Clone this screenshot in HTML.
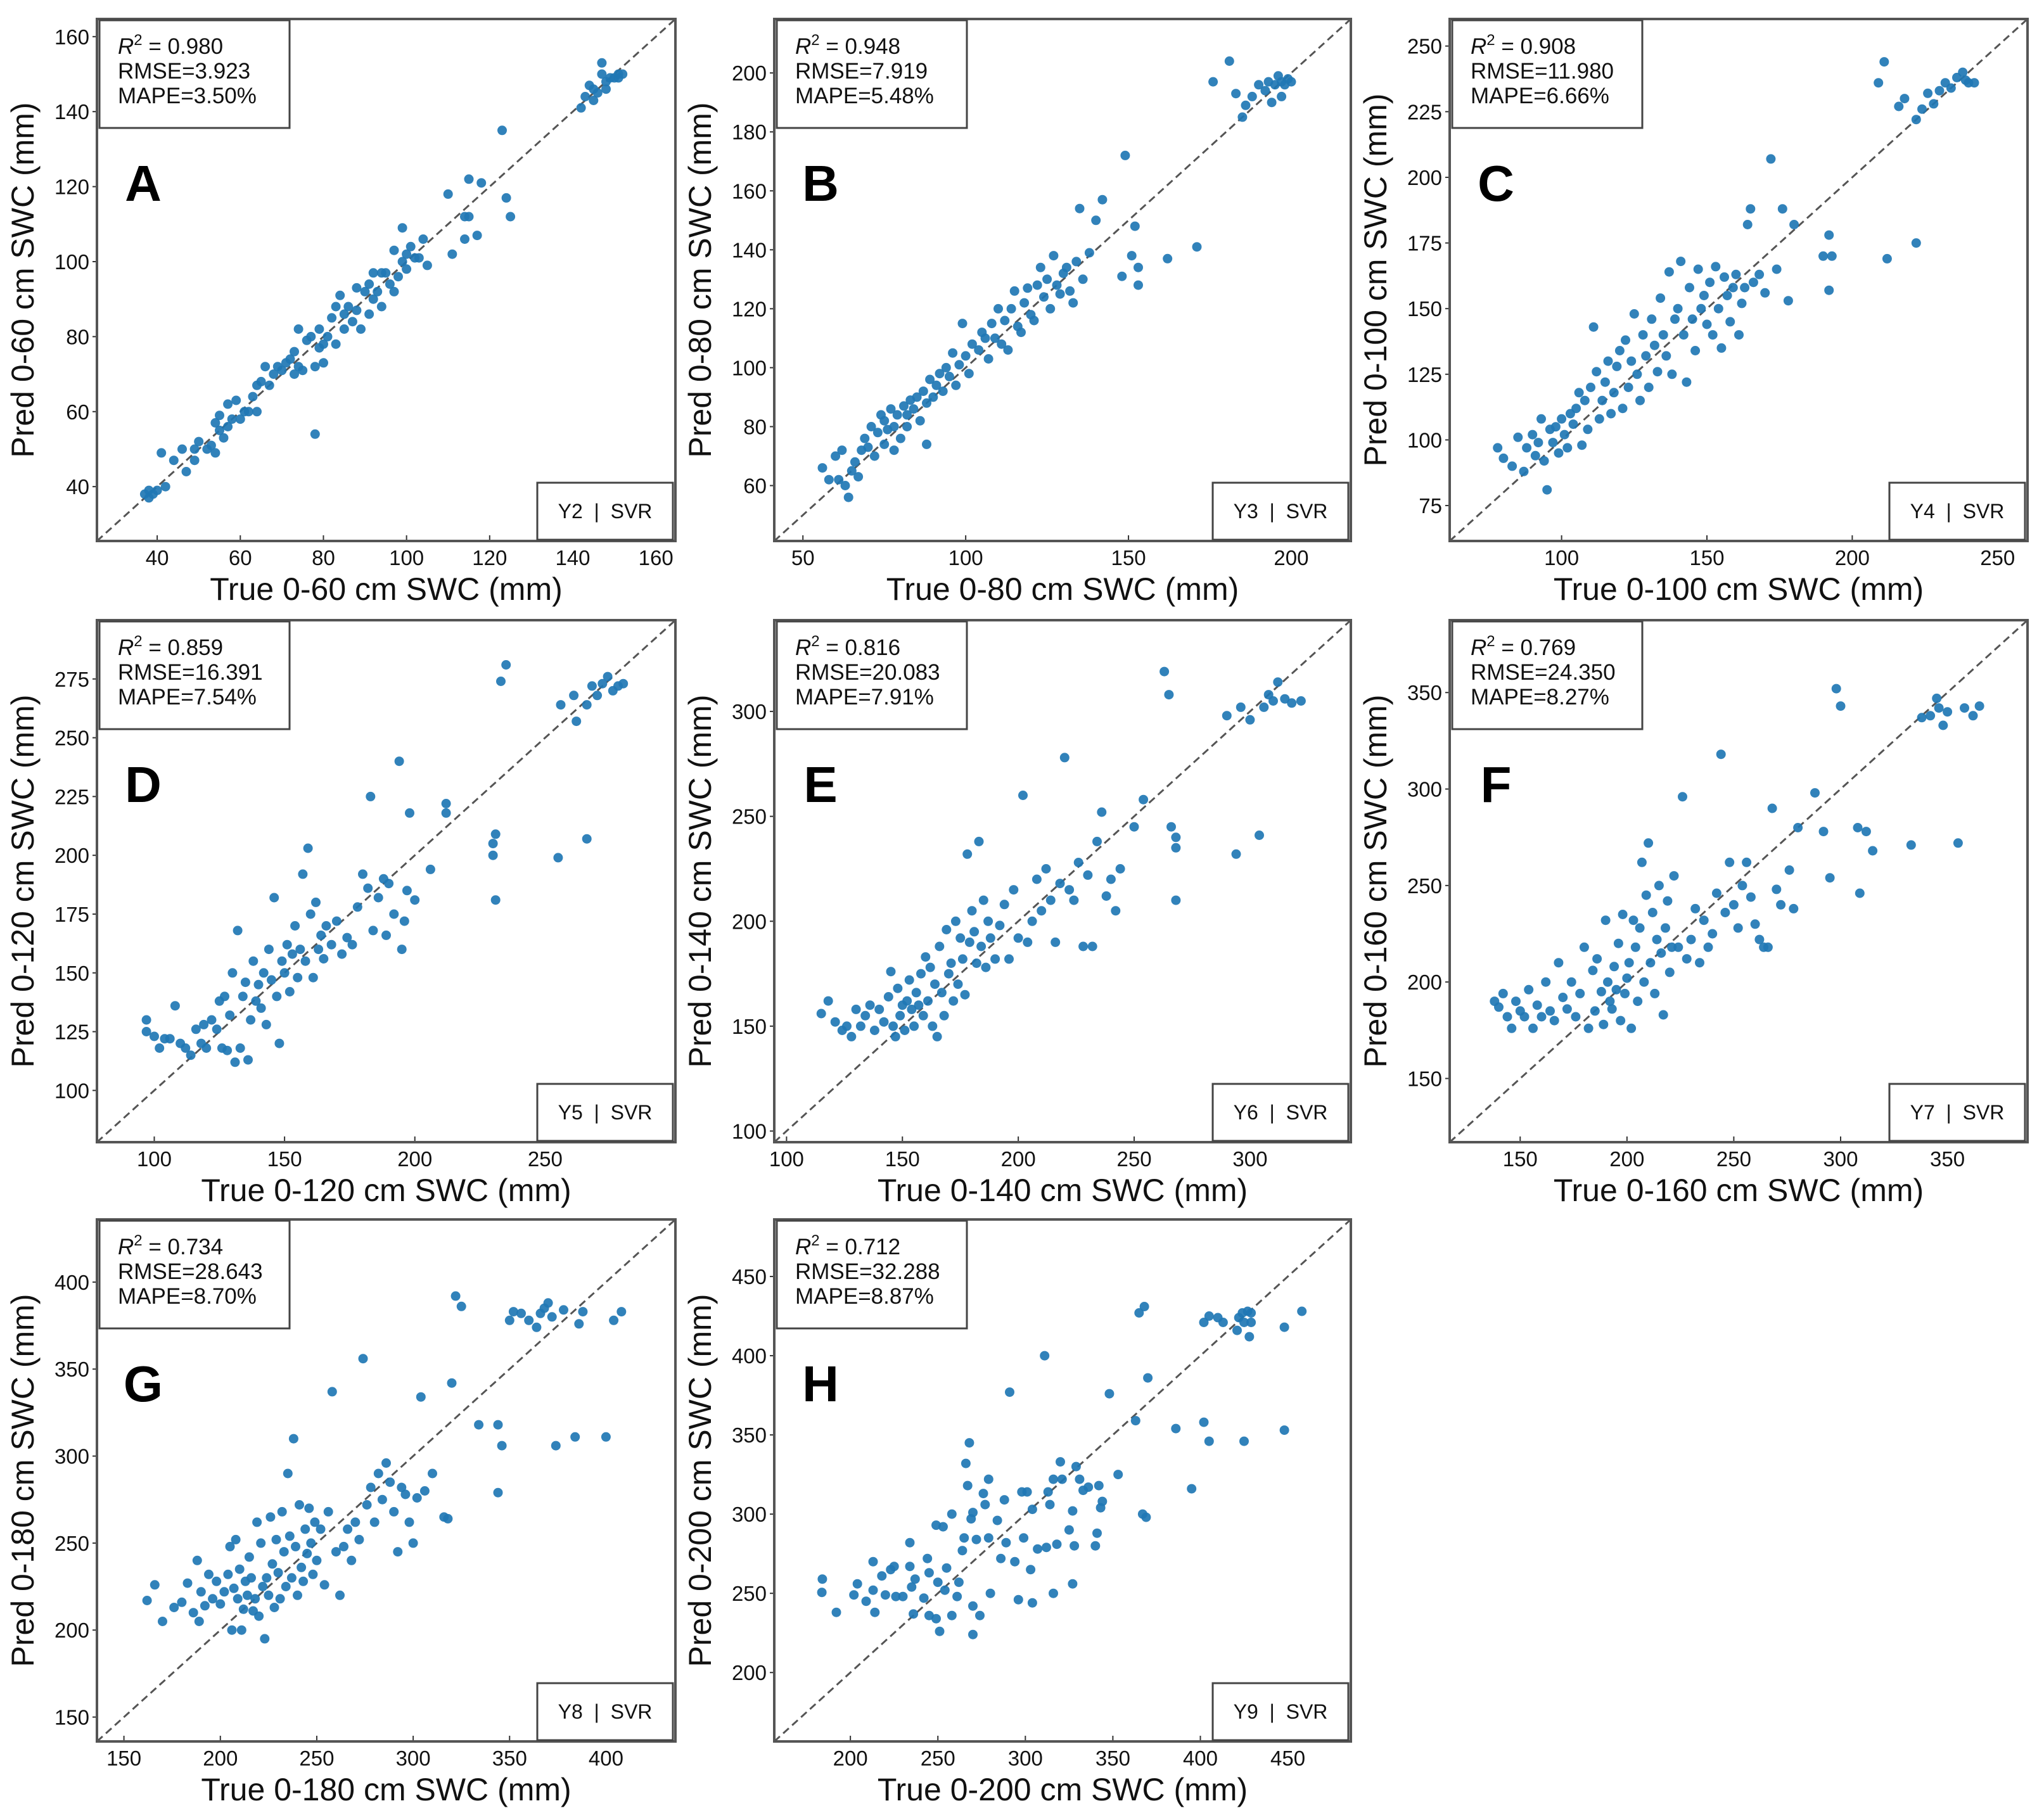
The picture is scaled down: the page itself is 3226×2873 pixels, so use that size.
<!DOCTYPE html>
<html><head><meta charset="utf-8"><style>
html,body{margin:0;padding:0;background:#fff}
svg{display:block;font-family:"Liberation Sans",Arial,sans-serif}
</style></head><body>
<svg id="fig" width="3226" height="2873" viewBox="0 0 3226 2873" xmlns="http://www.w3.org/2000/svg"></svg>
<script>
const panelIds = ["A","B","C","D","E","F","G","H"];
const depths = ["0-60","0-80","0-100","0-120","0-140","0-160","0-180","0-200"];
const targets = ["Y2","Y3","Y4","Y5","Y6","Y7","Y8","Y9"];
const r2Vals = ["0.980","0.948","0.908","0.859","0.816","0.769","0.734","0.712"];
const rmseVals = ["3.923","7.919","11.980","16.391","20.083","24.350","28.643","32.288"];
const mapeVals = ["3.50%","5.48%","6.66%","7.54%","7.91%","8.27%","8.70%","8.87%"];
const domains = [[25.5,164.7],[41.2,218.3],[61.5,260.3],[78,300],[94.7,343.5],[117,387.5],[136,436],[156.5,486]];
const xTicks = [[40,60,80,100,120,140,160],[50,100,150,200],[100,150,200,250],[100,150,200,250],[100,150,200,250,300],[150,200,250,300,350],[150,200,250,300,350,400],[200,250,300,350,400,450]];
const yTicks = [[40,60,80,100,120,140,160],[60,80,100,120,140,160,180,200],[75,100,125,150,175,200,225,250],[100,125,150,175,200,225,250,275],[100,150,200,250,300],[150,200,250,300,350],[150,200,250,300,350,400],[200,250,300,350,400,450]];

const ptsA = [[37,38],[38,39],[38,37],[39,38],[40,39],[41,49],[42,40],[44,47],[46,50],[47,44],[49,50],[49,47],[50,52],[52,50],[53,51],[54,57],[54,49],[55,55],[55,59],[56,53],[57,56],[57,62],[58,58],[59,63],[60,58],[61,60],[62,60],[63,64],[64,67],[64,60],[65,68],[66,72],[67,67],[68,70],[69,72],[70,71],[71,73],[72,74],[73,70],[73,76],[74,72],[74,82],[75,71],[76,79],[77,80],[78,72],[78,54],[79,77],[79,82],[80,78],[80,73],[81,80],[82,85],[83,78],[83,88],[84,91],[85,82],[85,86],[86,88],[87,84],[88,87],[88,93],[89,82],[90,92],[91,86],[91,94],[92,90],[92,97],[93,92],[94,97],[94,88],[95,97],[96,94],[97,92],[97,103],[98,96],[99,100],[99,109],[100,98],[100,102],[101,104],[102,101],[103,101],[104,106],[105,99],[110,118],[111,102],[114,112],[114,106],[115,112],[115,122],[117,107],[118,121],[123,135],[124,117],[125,112],[142,141],[143,144],[144,147],[145,146],[145,143],[146,145],[147,150],[147,153],[148,148],[148,146],[150,149],[151,149],[152,150],[151,150],[149,149]];
const ptsB = [[56,66],[58,62],[60,70],[61,62],[62,72],[63,60],[64,56],[65,65],[66,68],[67,63],[68,72],[69,76],[70,73],[71,80],[72,70],[73,78],[74,84],[75,82],[75,74],[76,79],[77,86],[78,80],[78,72],[79,84],[80,76],[81,87],[82,80],[82,84],[83,89],[84,86],[85,90],[86,82],[87,92],[88,88],[88,74],[89,96],[90,90],[91,94],[92,98],[93,92],[94,100],[95,97],[96,105],[97,94],[98,101],[99,115],[100,104],[101,98],[102,108],[104,106],[105,112],[106,110],[107,103],[108,115],[109,110],[110,120],[111,108],[112,116],[113,106],[114,120],[115,126],[116,114],[117,112],[118,122],[119,127],[120,118],[121,116],[122,128],[123,134],[124,124],[125,130],[126,120],[127,138],[128,128],[129,125],[130,132],[131,134],[132,126],[133,122],[134,136],[135,154],[136,130],[138,139],[140,150],[142,157],[148,131],[149,172],[151,138],[152,148],[153,134],[153,128],[162,137],[171,141],[176,197],[181,204],[183,193],[185,185],[186,189],[188,192],[190,196],[192,194],[193,197],[195,196],[196,199],[197,197],[198,196],[199,198],[200,197],[197,192],[194,190]];
const ptsC = [[78,97],[80,93],[83,90],[85,101],[87,88],[88,97],[90,102],[91,94],[92,99],[93,108],[94,92],[95,81],[96,104],[97,99],[98,105],[99,95],[100,108],[101,102],[102,97],[103,110],[104,106],[105,112],[106,118],[107,98],[108,115],[109,104],[110,120],[111,143],[112,126],[113,108],[114,115],[115,122],[116,130],[117,110],[118,118],[119,128],[120,134],[121,112],[122,138],[123,120],[124,130],[125,148],[126,125],[127,115],[128,140],[129,132],[130,120],[131,146],[132,136],[133,126],[134,154],[135,140],[136,132],[137,164],[138,125],[139,146],[140,150],[141,168],[142,140],[143,122],[144,158],[145,146],[146,134],[147,165],[148,150],[149,155],[150,144],[151,160],[152,140],[153,166],[154,150],[155,135],[156,162],[157,155],[158,145],[159,158],[160,163],[161,140],[162,152],[163,158],[164,182],[165,188],[166,160],[168,163],[170,156],[172,207],[174,165],[176,188],[178,153],[180,182],[190,170],[192,178],[192,157],[193,170],[209,236],[211,244],[212,169],[216,227],[218,230],[222,175],[222,222],[224,226],[226,232],[228,228],[230,233],[232,236],[234,234],[236,238],[238,240],[240,236],[242,236],[239,237]];
const ptsD = [[97,130],[97,125],[100,123],[102,118],[104,122],[106,122],[108,136],[110,120],[112,118],[114,115],[116,126],[118,120],[119,128],[120,118],[122,130],[124,126],[125,138],[126,118],[127,140],[128,117],[129,132],[130,150],[131,112],[132,168],[133,118],[134,140],[135,146],[136,113],[137,130],[138,155],[139,138],[140,145],[141,135],[142,150],[143,128],[144,160],[145,147],[146,182],[147,140],[148,120],[149,155],[150,150],[151,162],[152,142],[153,158],[154,170],[155,148],[156,160],[157,192],[158,155],[159,203],[160,175],[161,148],[162,180],[163,160],[164,166],[165,156],[166,170],[168,162],[170,172],[172,158],[174,165],[176,162],[178,178],[180,192],[182,186],[183,225],[184,168],[186,182],[188,190],[189,166],[190,188],[192,175],[194,240],[195,160],[196,172],[197,185],[198,218],[200,181],[206,194],[212,222],[212,218],[230,205],[230,200],[231,181],[231,209],[233,274],[235,281],[255,199],[256,264],[261,268],[262,257],[266,207],[266,264],[268,272],[270,268],[272,273],[274,276],[276,270],[278,272],[280,273]];
const ptsE = [[115,156],[118,162],[121,152],[124,148],[126,150],[128,145],[130,158],[132,150],[134,155],[136,160],[138,148],[140,158],[142,152],[144,164],[145,176],[146,150],[147,145],[148,168],[149,155],[150,160],[151,148],[152,162],[153,172],[154,158],[155,150],[156,166],[157,160],[158,175],[159,155],[160,183],[161,162],[162,178],[163,150],[164,170],[165,145],[166,188],[167,166],[168,155],[169,196],[170,175],[171,180],[172,162],[173,200],[174,170],[175,192],[176,182],[177,165],[178,232],[179,190],[180,205],[181,195],[182,180],[183,238],[184,188],[185,210],[186,178],[187,200],[188,192],[190,182],[192,198],[194,208],[196,182],[198,215],[200,192],[202,260],[204,190],[206,200],[208,220],[210,205],[212,225],[214,210],[216,190],[218,218],[220,278],[222,215],[224,210],[226,228],[228,188],[230,222],[232,188],[234,238],[236,252],[238,212],[240,220],[242,205],[244,225],[250,245],[254,258],[266,245],[268,240],[268,210],[268,235],[263,319],[265,308],[290,298],[294,232],[296,302],[300,296],[304,241],[306,302],[308,308],[310,305],[312,314],[315,306],[318,304],[322,305]];
const ptsF = [[138,190],[140,187],[142,194],[144,182],[146,176],[148,190],[150,185],[152,182],[154,196],[156,176],[158,188],[160,182],[162,200],[164,185],[166,180],[168,210],[170,192],[172,186],[174,200],[176,182],[178,194],[180,218],[182,176],[184,206],[185,185],[186,212],[188,195],[189,178],[190,232],[191,200],[192,190],[193,186],[194,208],[195,196],[196,220],[197,180],[198,235],[199,194],[200,202],[201,210],[202,176],[203,232],[204,218],[205,190],[206,228],[207,262],[208,200],[209,245],[210,272],[211,210],[212,236],[213,194],[214,222],[215,250],[216,215],[217,183],[218,228],[219,242],[220,205],[221,218],[222,255],[224,218],[226,296],[228,212],[230,222],[232,238],[234,210],[236,232],[238,218],[240,225],[242,246],[244,318],[246,236],[248,262],[250,240],[252,228],[254,250],[256,262],[258,244],[260,230],[262,222],[264,218],[266,218],[268,290],[270,248],[272,240],[276,258],[278,238],[280,280],[288,298],[292,278],[295,254],[298,352],[300,343],[308,280],[309,246],[312,278],[315,268],[333,271],[338,337],[342,338],[346,342],[348,333],[350,340],[355,272],[358,342],[362,338],[365,343],[345,347]];
const ptsG = [[162,217],[166,226],[170,205],[176,213],[180,216],[183,227],[186,210],[188,240],[189,205],[190,222],[192,214],[194,232],[196,218],[198,228],[200,215],[202,222],[204,232],[205,248],[206,200],[207,224],[208,252],[209,218],[210,235],[211,200],[212,212],[213,228],[214,220],[215,242],[216,230],[217,211],[218,218],[219,262],[220,208],[221,250],[222,225],[223,195],[224,230],[225,220],[226,265],[227,238],[228,213],[229,252],[230,233],[231,218],[232,268],[233,245],[234,225],[235,290],[236,254],[237,230],[238,310],[239,248],[240,220],[241,272],[242,236],[243,228],[244,258],[245,244],[246,270],[247,250],[248,232],[249,262],[250,240],[252,258],[254,226],[256,268],[258,337],[260,245],[262,220],[264,248],[266,258],[268,240],[270,262],[272,252],[274,356],[276,272],[278,282],[280,262],[282,290],[284,275],[286,296],[288,285],[290,268],[292,245],[294,282],[296,278],[298,262],[300,250],[302,276],[304,334],[306,280],[310,290],[316,265],[318,264],[320,342],[322,392],[325,386],[334,318],[344,318],[344,279],[346,306],[350,378],[352,383],[356,382],[360,378],[364,374],[366,382],[368,385],[370,388],[372,380],[374,306],[378,384],[384,311],[386,376],[388,383],[400,311],[404,378],[408,383]];
const ptsH = [[183.7,250.6],[184,259],[192,238],[202,249],[204,256],[209,245],[213,270],[213,252],[214,238],[218,261],[220,249],[223,265],[225,267],[226,248],[230,248],[234,282],[234,267],[235,254],[236,237],[237,259],[242,247],[244,272],[245,236],[245,263],[249,293],[249,234],[250,257],[251,226],[253,292],[254,252],[255,266],[258,300],[258,236],[261,248],[262,257],[264,277],[265,285],[266,332],[267,318],[268,345],[269,297],[270,301],[270,224],[270,242],[272,284],[274,236],[276,313],[277,306],[279,322],[279,285],[280,250],[284,296],[286,272],[288,309],[289,282],[291,377],[294,270],[296,246],[298,314],[299,285],[301,314],[303,265],[304,244],[304,303],[307,278],[311,400],[312,279],[313,314],[314,306],[316,250],[316,322],[318,281],[320,333],[321,322],[325,290],[327,256],[327,302],[328,280],[329,330],[331,322],[333,315],[336,317],[340,280],[341,288],[342,318],[343,304],[344,308],[348,376],[353,325],[363,359],[365,427],[367,300],[368,431],[369,298],[370,386],[386,354],[395,316],[402,358],[402,421],[405,346],[405,425],[410,424],[413,421],[421,416],[422,424],[424,427],[425,346],[425,421],[427,428],[428,412],[429,421],[429,427],[448,418],[448,353],[458,428]];
const allPts = [ptsA,ptsB,ptsC,ptsD,ptsE,ptsF,ptsG,ptsH];

const NS = "http://www.w3.org/2000/svg";
const svg = document.getElementById("fig");
const colL = [153,1222,2288], colR = [1066,2132,3200];
const rowT = [30,979,1925], rowB = [854,1803,2749];
function mk(tag, attrs, parent, text){
  const e = document.createElementNS(NS, tag);
  for (const k in attrs) e.setAttribute(k, attrs[k]);
  if (text !== undefined) e.textContent = text;
  parent.appendChild(e);
  return e;
}
panelIds.forEach((id, i) => {
  const c = i % 3, r = Math.floor(i / 3);
  const L = colL[c], R = colR[c], T = rowT[r], B = rowB[r];
  const [d0, d1] = domains[i];
  const sx = v => L + (v - d0) / (d1 - d0) * (R - L);
  const sy = v => B - (v - d0) / (d1 - d0) * (B - T);
  const g = mk("g", {}, svg);
  
  
  const diag = mk("line", {x1:L, y1:B, x2:R, y2:T, stroke:"#555", "stroke-width":3, "stroke-dasharray":"12 7"}, g);
  
  
  const pg = mk("g", {fill:"#1f77b4", "fill-opacity":"0.92"}, g);
  
  
  allPts[i].forEach(p => {
    const cEl = mk("circle", {cx:sx(p[0]).toFixed(1), cy:sy(p[1]).toFixed(1), r:7.5}, pg);
    
    
  });
  xTicks[i].forEach(t => {
    const x = sx(t);
    mk("line", {x1:x, y1:B, x2:x, y2:B-9, stroke:"#333", "stroke-width":2}, g);
    const tl = mk("text", {x:x, y:B+38, "font-size":33, "text-anchor":"middle", fill:"#111"}, g, String(t));
    
    
  });
  yTicks[i].forEach(t => {
    const y = sy(t);
    mk("line", {x1:L-7, y1:y, x2:L, y2:y, stroke:"#333", "stroke-width":2}, g);
    const tl = mk("text", {x:L-12, y:y+12, "font-size":33, "text-anchor":"end", fill:"#111"}, g, String(t));
    
    
  });
  const fr = mk("rect", {x:L, y:T, width:R-L, height:B-T, fill:"none", stroke:"#555", "stroke-width":4}, g);
  
  
  const xl = mk("text", {x:(L+R)/2, y:B+93, "font-size":50, "text-anchor":"middle", fill:"#111"}, g, "True " + depths[i] + " cm SWC (mm)");
  
  
  const yx = L - 100, yy = (T + B) / 2;
  const yl = mk("text", {x:yx, y:yy, "font-size":50, "text-anchor":"middle", fill:"#111", transform:"rotate(-90 " + yx + " " + yy + ")"}, g, "Pred " + depths[i] + " cm SWC (mm)");
  
  
  const sb = mk("rect", {x:L+4, y:T+2, width:300, height:170, fill:"#fff", stroke:"#444", "stroke-width":3}, g);
  
  
  const s1 = mk("text", {x:L+33, y:T+55, "font-size":35, fill:"#111"}, g);
  
  
  mk("tspan", {"font-style":"italic"}, s1, "R");
  mk("tspan", {dy:-14, "font-size":24}, s1, "2");
  mk("tspan", {dy:14}, s1, " = " + r2Vals[i]);
  const s2 = mk("text", {x:L+33, y:T+94, "font-size":35, fill:"#111"}, g, "RMSE=" + rmseVals[i]);
  
  
  const s3 = mk("text", {x:L+33, y:T+133, "font-size":35, fill:"#111"}, g, "MAPE=" + mapeVals[i]);
  
  
  const pl = mk("text", {x:L+73, y:T+287, "font-size":80, "font-weight":"bold", "text-anchor":"middle", fill:"#000"}, g, id);
  
  
  const lb = mk("rect", {x:R-218, y:B-92, width:214, height:90, fill:"#fff", stroke:"#444", "stroke-width":3}, g);
  
  
  const lt = mk("text", {x:R-111, y:B-36, "font-size":32, "text-anchor":"middle", fill:"#111"}, g, targets[i] + "  |  SVR");
  
  
  lt.style.whiteSpace = 'pre';
});
</script>
</body></html>
